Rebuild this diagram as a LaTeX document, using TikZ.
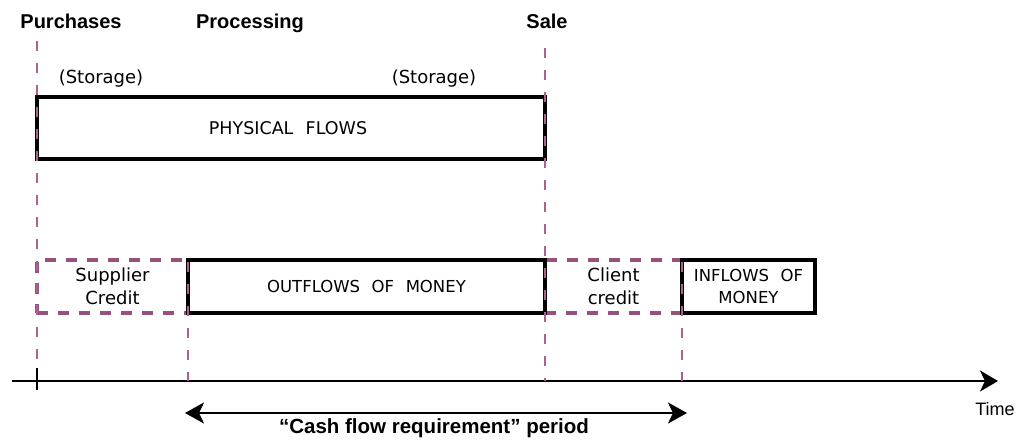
\documentclass[tikz,border=0pt]{standalone}
\usepackage{fontspec}
\setmainfont{Liberation Sans}
\newfontfamily\boxfont{DejaVu Sans}
\usetikzlibrary{arrows.meta}
\definecolor{plum}{RGB}{150,82,125}
\definecolor{plumline}{RGB}{172,98,142}
\newcommand{\wsp}{\hspace{0.7em}}
\begin{document}
\begin{tikzpicture}[x=1pt,y=-1pt,
  heading/.style={anchor=base, font=\bfseries\fontsize{20}{24}\selectfont},
  storage/.style={anchor=base, font=\boxfont\fontsize{18}{22}\selectfont},
  boxbase/.style={rectangle, inner sep=0pt, align=center, minimum height=53pt,
    font=\boxfont\fontsize{18}{23.5}\selectfont},
  solidbox/.style={boxbase, draw=black, line width=3.5pt},
  dashbox/.style={boxbase, draw=plum, line width=3.5pt, dash pattern=on 11pt off 10pt},
  capstext/.style={font=\boxfont\fontsize{16.5}{22.5}\selectfont},
  vline/.style={draw=plumline, line width=1.3pt, dash pattern=on 10pt off 12pt},
  axisline/.style={draw=black, line width=2pt, -{Stealth[length=18pt, width=21pt, inset=5pt]}},
  period/.style={draw=black, line width=2.5pt, {Stealth[length=19pt, width=21pt, inset=5pt]}-{Stealth[length=19pt, width=21pt, inset=5pt]}}
]
\useasboundingbox (0,0) rectangle (1019,439);

% headings
\node[heading] (hpur) at (71,28) {Purchases};
\node[heading] (hpro) at (250,28) {Processing};
\node[heading] (hsal) at (547,28) {Sale};
\node[storage] (st1) at (101,83) {(Storage)};
\node[storage] (st2) at (434,83) {(Storage)};

% physical flows
\node[solidbox, minimum width=508pt, minimum height=62pt] (phys) at (291,128) {};
\node[font=\boxfont\fontsize{17.5}{22.5}\selectfont, inner sep=0pt] (physt) at (288,128) {PHYSICAL\wsp FLOWS};

% money boxes
\node[dashbox, minimum width=151pt] (supp) at (112.5,286.5) {Supplier\\Credit};
\node[dashbox, minimum width=137pt] (clie) at (613.5,286.5) {Client\\credit};
\node[solidbox, capstext, minimum width=357pt] (outf) at (366.5,286.5) {OUTFLOWS\wsp OF\wsp MONEY};
\node[solidbox, capstext, minimum width=133pt] (infl) at (748.5,286.5) {INFLOWS\wsp OF\\MONEY};

% axis
\coordinate (axL) at (12,381);
\coordinate (axR) at (998,381);
\draw[axisline] (axL) -- (axR);
\node[font=\fontsize{18}{22}\selectfont] (time) at (995,409) {Time};

% vertical guides
\coordinate (vpT) at (37,41);   \coordinate (vpB) at (37,381);
\coordinate (vrT) at (188,262); \coordinate (vrB) at (188,381);
\coordinate (vsT) at (545,48);  \coordinate (vsB) at (545,381);
\coordinate (vcT) at (682,262); \coordinate (vcB) at (682,381);
\draw[vline] (vpT) -- (vpB);
\draw[vline] (vrT) -- (vrB);
\draw[vline] (vsT) -- (vsB);
\draw[vline] (vcT) -- (vcB);

% tick
\coordinate (tkT) at (37,368);
\coordinate (tkB) at (37,390);
\draw[line width=2pt] (tkT) -- (tkB);

% period arrow
\coordinate (pL) at (185,413);
\coordinate (pR) at (687,413);
\draw[period] (pL) -- (pR);
\node[anchor=base, font=\bfseries\fontsize{20.5}{24}\selectfont] (cash) at (434,433) {“Cash flow requirement” period};
\end{tikzpicture}
\end{document}
